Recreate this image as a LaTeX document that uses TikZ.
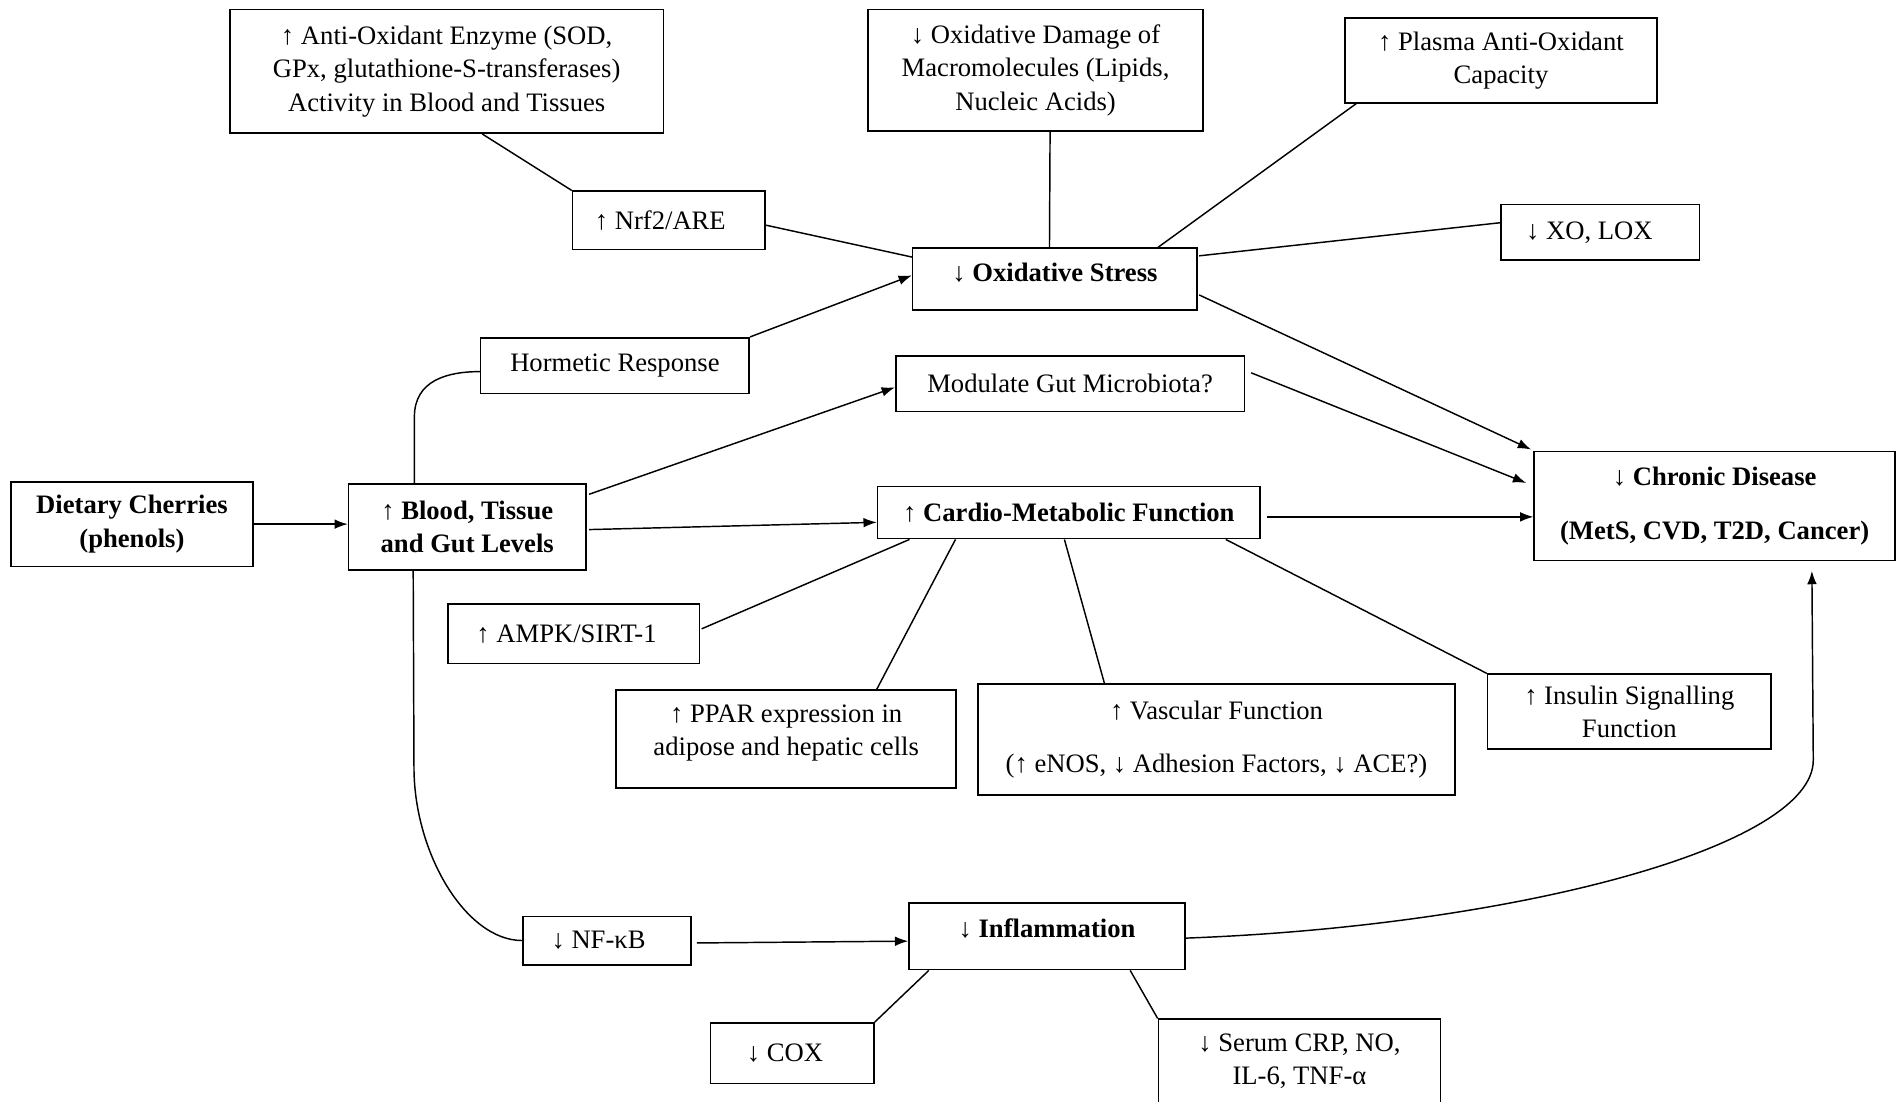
\documentclass[tikz,border=0pt]{standalone}
\usepackage{fontspec}
\setmainfont{Liberation Serif}
\usetikzlibrary{arrows.meta,calc}
\begin{document}
\begin{tikzpicture}[x=1pt,y=-1pt,
  bx/.style={draw,line width=1.3pt,align=center,inner sep=0pt,font=\fontsize{22}{27.5}\selectfont},
  ln/.style={line width=1.2pt},
  arr/.style={line width=1.2pt,-{Latex[length=11pt,width=8pt]}}]
\clip (0,0) rectangle (1568,910);
\fill[white] (0,0) rectangle (1568,910);
% nodes
\node[bx,minimum width=358pt,minimum height=102pt] (antiox) at (369,59) {↑ Anti-Oxidant Enzyme (SOD,\\ GPx, glutathione-S-transferases)\\ Activity in Blood and Tissues};
\node[bx,minimum width=277pt,minimum height=100pt] (oxdam) at (855.5,58) {↓ Oxidative Damage of\\ Macromolecules (Lipids,\\ Nucleic Acids)};
\node[bx,minimum width=258pt,minimum height=70pt] (plasma) at (1240,50) {↑ Plasma Anti-Oxidant\\ Capacity};
\node[bx,minimum width=159pt,minimum height=48pt] (nrf2) at (552.5,182) {↑ Nrf2/ARE\hspace{14pt}};
\node[bx,minimum width=164pt,minimum height=46pt] (xolox) at (1322,192) {↓ XO, LOX\hspace{18pt}};
\node[bx,minimum width=235pt,minimum height=51pt,text height=15pt,text depth=11pt] (oxstress) at (871.5,230.5) {↓ \textbf{Oxidative Stress}};
\node[bx,minimum width=222pt,minimum height=46pt] (hormetic) at (508,302) {Hormetic Response};
\node[bx,minimum width=288pt,minimum height=46pt] (gut) at (884,317) {Modulate Gut Microbiota?};
\node[bx,minimum width=298pt,minimum height=90pt] (chronic) at (1416.5,418) {↓ \textbf{Chronic Disease}\\[17pt] \textbf{(MetS, CVD, T2D, Cancer)}};
\node[bx,minimum width=200pt,minimum height=70pt] (diet) at (109,433) {\textbf{Dietary Cherries}\\ \textbf{(phenols)}};
\node[bx,minimum width=196pt,minimum height=71pt] (blood) at (386,435.5) {↑ \textbf{Blood, Tissue}\\ \textbf{and Gut Levels}};
\node[bx,minimum width=316pt,minimum height=43pt] (cardio) at (883,423.5) {↑ \textbf{Cardio-Metabolic Function}};
\node[bx,minimum width=208pt,minimum height=49pt] (ampk) at (474,523.5) {↑ AMPK/SIRT-1\hspace{12pt}};
\node[bx,minimum width=281pt,minimum height=81pt] (ppar) at (649.5,610.5) {↑ PPAR expression in\\ adipose and hepatic cells\\[-13.5pt]};
\node[bx,minimum width=394pt,minimum height=92pt] (vasc) at (1005,611) {↑ Vascular Function\\[17pt] (↑ eNOS, ↓ Adhesion Factors, ↓ ACE?)};
\node[bx,minimum width=234pt,minimum height=62pt] (insulin) at (1346,588) {↑ Insulin Signalling\\ Function};
\node[bx,minimum width=139pt,minimum height=40pt] (nfkb) at (501.5,777) {↓ NF-κB\hspace{14pt}};
\node[bx,minimum width=228pt,minimum height=55pt,text height=15pt,text depth=13pt] (infl) at (865,773.5) {↓ \textbf{Inflammation}};
\node[bx,minimum width=135pt,minimum height=50pt] (cox) at (654.5,870) {↓ COX\hspace{12pt}};
\node[bx,minimum width=233pt,minimum height=88pt] (serum) at (1073.5,886) {↓ Serum CRP, NO,\\ IL-6, TNF-α\\[-5.5pt]};
% connectors
\draw[arr] (diet.east) -- (diet.east -| blood.west);
\draw[arr] ($(blood.east)+(2,2)$) -- ($(cardio.west)+(0,8)$);
\draw[arr] ($(blood.north east)+(2,9)$) -- ($(gut.west)+(0,3)$);
\draw[ln] ($(blood.north west)+(55,0)$) -- ++(0,-55) .. controls +(0,-30) and +(-27,0) .. ($(hormetic.west)+(0,5)$);
\draw[arr] (hormetic.north east) -- ($(oxstress.west)+(0,-3)$);
\draw[ln] ($(nrf2.east)+(0,4)$) -- ($(oxstress.north west)+(0,8)$);
\draw[ln] ($(antiox.south west)+(209,0)$) -- (nrf2.north west);
\draw[ln] ($(oxdam.south)+(12,0)$) -- ($(oxstress.north)+(-4.5,0)$);
\draw[ln] ($(plasma.south west)+(10,0)$) -- ($(oxstress.north east)+(-33,0)$);
\draw[ln] ($(xolox.west)+(0,-8)$) -- ($(oxstress.north east)+(1,7)$);
\draw[arr] ($(oxstress.south east)+(1,-13)$) -- ($(chronic.north west)+(-2,-1)$);
\draw[arr] ($(gut.east)+(5,-9)$) -- ($(chronic.west)+(-6,-19)$);
\draw[arr] ($(cardio.east)+(5,3.5)$) -- ($(chronic.west)+(0,9)$);
\draw[ln] ($(cardio.south west)+(27,0)$) -- ($(ampk.east)+(1,-4)$);
\draw[ln] ($(cardio.south west)+(65,0)$) -- ($(ppar.north west)+(216,0)$);
\draw[ln] ($(cardio.south west)+(155,0)$) -- ($(vasc.north west)+(105,0)$);
\draw[ln] ($(cardio.south east)+(-29,0)$) -- (insulin.north west);
\draw[ln] ($(blood.south west)+(54,0)$) -- (342,634) .. controls (342,705) and (385,777) .. (nfkb.west);
\draw[arr] ($(nfkb.east)+(4,2)$) -- ($(infl.west)+(0,4)$);
\draw[arr] ($(infl.east)+(0,1.5)$) .. controls (1250,765) and (1498,700) .. (1498,628) -- ($(chronic.south west)+(230,8)$);
\draw[ln] ($(infl.south west)+(17,0)$) -- (cox.north east);
\draw[ln] ($(infl.south east)+(-46,0)$) -- (serum.north west);
\end{tikzpicture}
\end{document}
